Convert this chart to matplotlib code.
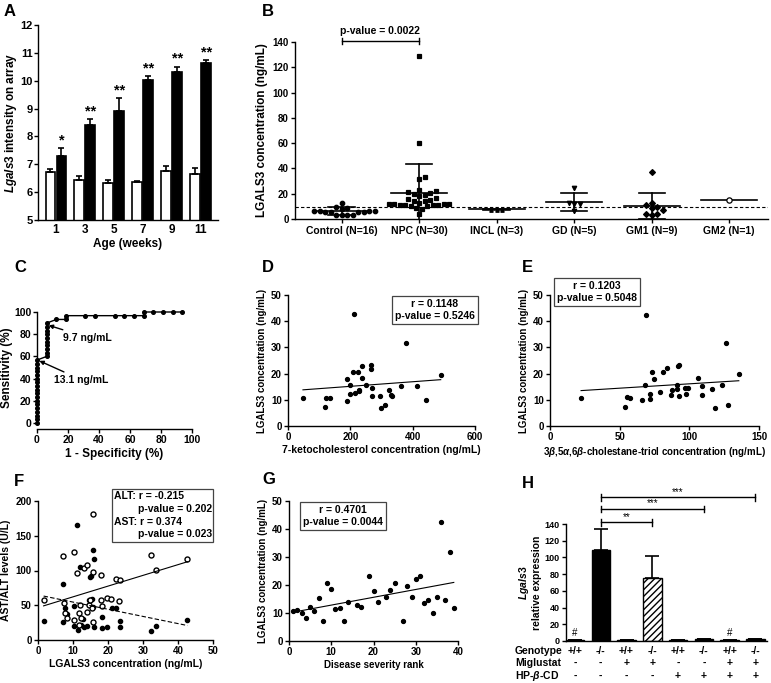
import matplotlib
matplotlib.use('Agg')
import matplotlib.pyplot as plt
import numpy as np

# ---- data -------------------------------------------------------------
# A: Lgals3 array intensity, wild type (white) vs Npc1-/- (black)
ages = ['1', '3', '5', '7', '9', '11']
wt_mean = [6.72, 6.43, 6.33, 6.35, 6.75, 6.65]
wt_err = [0.12, 0.15, 0.12, 0.04, 0.18, 0.20]
npc_mean = [7.28, 8.40, 8.92, 10.02, 10.32, 10.62]
npc_err = [0.30, 0.24, 0.47, 0.15, 0.19, 0.11]
age_stars = ['*', '**', '**', '**', '**', '**']

# B: plasma LGALS3 per group
groups = ['Control (N=16)', 'NPC (N=30)', 'INCL (N=3)', 'GD (N=5)', 'GM1 (N=9)', 'GM2 (N=1)']
ctrl_vals = [12.8, 9.4, 9.0, 8.0, 6.2, 6.1, 6.0, 6.0, 5.9, 5.9, 5.8, 5.8, 3.4, 3.2, 3.0, 2.8]
npc_vals = [129, 60, 33, 32, 23, 22, 21, 20.5, 20, 19, 18, 17, 16, 15, 14, 14, 13, 12, 12,
            12, 11.5, 11, 11, 11, 11, 10, 10, 9, 8, 4]
incl_vals = [7.5, 7.2, 7.0]
gd_vals = [24.8, 12.4, 12.2, 12.0, 6.3]
gm1_vals = [37, 12.9, 11.0, 9.2, 8.5, 7.5, 4.0, 3.8, 3.5]
gm2_vals = [15]
group_mean = [6.2, 20.5, 7.7, 13.2, 10.5, 15.0]
group_sd = [3.1, 23.2, 0.6, 7.0, 10.2, 0.0]
cutoff = 9.7

# C: ROC curve
roc_fpr = [0, 0, 0, 0, 0, 0, 0, 0, 0, 0, 0, 0, 0, 0, 0, 0, 0, 0,
           6.25, 6.25, 6.25, 6.25, 6.25, 6.25, 6.25, 6.25, 6.25, 6.25,
           12.5, 18.75, 18.75, 31.25, 37.5, 50, 56.25, 62.5, 68.75, 68.75,
           75, 81.25, 87.5, 93.75]
roc_tpr = [0, 3.3, 6.7, 10, 13.3, 16.7, 20, 23.3, 26.7, 30, 33.3, 36.7, 40, 43.3, 46.7, 50, 53.3, 56.7,
           60, 63.3, 66.7, 70, 73.3, 76.7, 80, 83.3, 86.7, 90,
           93.3, 93.3, 96.7, 96.7, 96.7, 96.7, 96.7, 96.7, 96.7, 100,
           100, 100, 100, 100]

# D: 7-ketocholesterol vs LGALS3
keto = [48, 121, 119, 134, 190, 188, 200, 207, 200, 211, 215, 224, 227, 228, 237, 238,
        249, 266, 266, 269, 271, 296, 297, 311, 323, 332, 334, 361, 378, 415, 443, 490]
keto_lg = [10.6, 10.8, 7.1, 10.7, 17.8, 9.7, 15.5, 20.5, 12.1, 42.7, 12.7, 20.5, 13.8, 13.4,
           22.9, 18.2, 15.5, 23.2, 21.9, 11.6, 14.6, 11.3, 7.0, 7.9, 13.9, 11.8, 11.5, 15.3,
           31.7, 15.3, 9.9, 19.6]

# E: cholestane-triol vs LGALS3
triol = [22.3, 53.7, 55.2, 57.3, 65.7, 68.1, 68.6, 71.5, 71.5, 73.1, 74.3, 79.1, 81.1, 83.7,
         87.1, 87.5, 90.9, 91.1, 91.6, 92.6, 92.6, 96.9, 97.8, 98.8, 106.5, 109.4, 109.4,
         116.5, 118.5, 123.3, 126.4, 127.8, 135.5]
triol_lg = [10.7, 7.2, 11.0, 10.8, 9.9, 15.6, 42.2, 10.2, 12.3, 20.6, 17.9, 12.8, 20.6, 22.0,
            11.8, 13.7, 14.0, 15.6, 23.0, 23.1, 11.3, 14.6, 12.1, 14.6, 18.3, 15.4, 11.7,
            14.0, 7.0, 15.5, 31.6, 7.9, 19.7]

# F: LGALS3 vs AST (open) and ALT (filled)
ast_lg = [1.6, 7.2, 7.3, 7.6, 8.2, 10.2, 10.3, 11.0, 11.6, 11.6, 11.9, 12.3, 13.1, 13.9, 14.1,
          14.6, 14.8, 15.4, 15.6, 15.8, 15.8, 18.1, 18.1, 18.3, 19.8, 20.8, 22.4, 23.5, 23.2,
          32.2, 33.6, 42.7]
ast = [57, 121.5, 52.6, 39, 31, 127, 28.7, 96.7, 38.3, 21.5, 50, 31, 103, 107.7, 39.7, 50,
       58, 45.5, 181, 98, 25.4, 93.8, 57.4, 48.3, 59.8, 58.9, 87.6, 86, 56.5, 123, 100.5, 116]
alt_lg = [1.6, 7.2, 7.2, 7.6, 8.2, 10.2, 10.3, 11.0, 11.3, 11.9, 12.2, 12.9, 13.1, 14.1, 14.5,
          14.9, 15.0, 15.4, 15.6, 15.8, 16.0, 16.0, 18.3, 18.3, 19.8, 21.0, 22.3, 23.5, 23.5,
          32.2, 33.6, 42.7]
alt = [27.8, 80, 25.4, 45.5, 37.3, 48.8, 20.6, 166, 14.4, 105, 21.5, 29.7, 18.2, 20.1, 57.4,
       90, 92, 58.4, 129, 47.8, 117, 19.1, 33.5, 17.7, 19.1, 46, 46, 27.8, 19.1, 13.4, 20.1, 28.7]

# G: disease severity rank vs LGALS3
rank = [1, 2, 3, 4, 5, 6, 7, 8, 9, 10, 11, 12, 13, 14, 16, 17, 19, 20, 21, 23, 24, 25, 27,
        28, 29, 30, 31, 32, 33, 34, 35, 36, 37, 38, 39]
rank_lg = [10.6, 11.0, 9.9, 8.1, 12.3, 10.6, 15.5, 7.0, 20.8, 18.4, 11.6, 11.8, 7.3, 14.0,
           12.9, 12.1, 23.3, 18.0, 14.0, 15.6, 18.1, 20.6, 7.0, 19.7, 15.6, 22.1, 23.2, 13.7,
           14.7, 10.0, 15.8, 42.5, 14.7, 31.9, 11.7]

# H: Lgals3 relative expression in treated mice
genotype = ['+/+', '-/-', '+/+', '-/-', '+/+', '-/-', '+/+', '-/-']
miglustat = ['-', '-', '+', '+', '-', '-', '+', '+']
hpbcd = ['-', '-', '-', '-', '+', '+', '+', '+']
expr_mean = [1.0, 108.5, 1.2, 75.0, 1.0, 2.3, 1.0, 2.3]
expr_err = [0.0, 25.0, 0.0, 27.0, 0.0, 0.5, 0.0, 0.5]
expr_marks = ['#', '', '', '', '', '', '#', '']
h_brackets = [(1, 3, '**', 142), (1, 5, '***', 158), (1, 7, '***', 172)]

# ---- style ------------------------------------------------------------
plt.rcParams['font.family'] = ['Liberation Sans', 'DejaVu Sans']
plt.rcParams['font.weight'] = 'bold'
plt.rcParams['axes.labelweight'] = 'bold'
plt.rcParams['font.size'] = 7.5
plt.rcParams['axes.labelsize'] = 7.5
plt.rcParams['mathtext.fontset'] = 'custom'
plt.rcParams['mathtext.it'] = 'Liberation Sans:italic:bold'
plt.rcParams['mathtext.rm'] = 'Liberation Sans:bold'
plt.rcParams['axes.linewidth'] = 1.0
for a in ('xtick', 'ytick'):
    plt.rcParams[a + '.major.size'] = 3
    plt.rcParams[a + '.major.width'] = 1.0
    plt.rcParams[a + '.major.pad'] = 1.5
    plt.rcParams[a + '.labelsize'] = 7

W, H = 771, 683
fig = plt.figure(figsize=(W / 100, H / 100), dpi=100)


def add_ax(left, top, right, bottom):
    ax = fig.add_axes([left / W, 1 - bottom / H, (right - left) / W, (bottom - top) / H])
    ax.spines['top'].set_visible(False)
    ax.spines['right'].set_visible(False)
    ax.patch.set_alpha(0)
    return ax


def letter(x, y, s):
    fig.text(x / W, 1 - y / H, s, fontsize=12, fontweight='bold', ha='left', va='center')


def fbox(cx, cy, s):
    fig.text(cx / W, 1 - cy / H, s, ha='center', va='center', fontsize=7.5, linespacing=1.2,
             bbox=dict(boxstyle='square,pad=0.3', fc='white', ec='#444444', lw=0.9))


def swarm(values, ypx, xpx, d=5.5):
    # simple beeswarm: place points one by one at the closest free x offset (pixel space)
    values = np.asarray(values, float)
    offs = np.zeros(len(values))
    placed = []
    for i in np.argsort(values):
        y = values[i] * ypx
        cands = [0.0]
        for k in range(1, 30):
            cands += [k * d / 2, -k * d / 2]
        for c in cands:
            if all((c - px) ** 2 + (y - py) ** 2 >= d * d for px, py in placed):
                break
        placed.append((c, y))
        offs[i] = c / xpx
    return offs


def fit_line(ax, x, y, **kw):
    k, b = np.polyfit(x, y, 1)
    xs = np.array([min(x), max(x)])
    ax.plot(xs, k * xs + b, color='black', lw=0.8, **kw)


# ---- A ----------------------------------------------------------------
ax = add_ax(38, 25, 218, 220)
xa = np.arange(len(ages))
ax.bar(xa - 0.19, wt_mean, 0.34, color='white', edgecolor='black', lw=1.2)
ax.bar(xa + 0.19, npc_mean, 0.34, color='black', edgecolor='black', lw=1.2)
ax.errorbar(xa - 0.19, wt_mean, yerr=[np.zeros(len(ages)), wt_err], fmt='none',
            ecolor='black', elinewidth=1.2, capsize=2.5, capthick=1.2)
ax.errorbar(xa + 0.19, npc_mean, yerr=[np.zeros(len(ages)), npc_err], fmt='none',
            ecolor='black', elinewidth=1.2, capsize=2.5, capthick=1.2)
for i, s in enumerate(age_stars):
    ax.text(xa[i] + 0.19, npc_mean[i] + npc_err[i] + 0.02, s, ha='center', va='bottom', fontsize=10.5)
ax.set_xlim(-0.62, 5.6)
ax.set_ylim(5, 12)
ax.set_xticks(xa)
ax.set_xticklabels(ages, fontsize=8.5)
ax.tick_params(axis='x', length=0, pad=3)
ax.set_yticks(range(5, 13))
ax.tick_params(axis='y', labelsize=8, pad=1)
ax.set_xlabel('Age (weeks)', labelpad=1, fontsize=8.5)
ax.set_ylabel(r'$\mathit{Lgals3}$ intensity on array', labelpad=1, fontsize=8.5)
letter(4, 11, 'A')

# ---- B ----------------------------------------------------------------
ax = add_ax(295, 42, 768, 219)
all_vals = [ctrl_vals, npc_vals, incl_vals, gd_vals, gm1_vals, gm2_vals]
markers = ['o', 's', '^', 'v', 'D', 'o']
msizes = [3.2, 3.4, 2.5, 3.2, 3.0, 3.8]
for i, vals in enumerate(all_vals):
    xs = i + swarm(vals, 177 / 140, 77.5)
    fc = 'white' if i == 5 else 'black'
    ax.plot(xs, vals, ls='none', marker=markers[i], ms=msizes[i], mfc=fc, mec='black',
            mew=0.9, clip_on=False, zorder=3)
    ax.plot([i - 0.36, i + 0.36], [group_mean[i]] * 2, color='black', lw=1.2, zorder=2)
    if group_sd[i] > 0:
        lo = max(group_mean[i] - group_sd[i], 0)
        hi = group_mean[i] + group_sd[i]
        ax.plot([i, i], [lo, hi], color='black', lw=1.2, zorder=2)
        ax.plot([i - 0.17, i + 0.17], [hi, hi], color='black', lw=1.2, zorder=2)
        if group_mean[i] - group_sd[i] > 0:
            ax.plot([i - 0.17, i + 0.17], [lo, lo], color='black', lw=1.2, zorder=2)
ax.axhline(cutoff, color='black', ls=(0, (3, 2)), lw=0.8, zorder=1)
ax.plot([0, 1], [141, 141], color='black', lw=1, clip_on=False)
for xe in (0, 1):
    ax.plot([xe, xe], [138.5, 143.5], color='black', lw=1, clip_on=False)
ax.text(0.5, 145, 'p-value = 0.0022', ha='center', va='bottom', fontsize=7.5)
ax.set_xlim(-0.6, 5.5)
ax.set_ylim(0, 140)
ax.set_yticks(range(0, 141, 20))
ax.set_xticks(range(len(groups)))
ax.set_xticklabels(groups, fontsize=7.5)
ax.tick_params(axis='x', pad=2)
ax.set_ylabel('LGALS3 concentration (ng/mL)', labelpad=3, fontsize=8.5)
letter(262, 12, 'B')

# ---- C ----------------------------------------------------------------
ax = add_ax(37, 312, 192, 423)
ax.plot(roc_fpr, roc_tpr, color='black', lw=1, marker='o', ms=2.6, clip_on=False, zorder=3)
ax.annotate('9.7 ng/mL', xy=(7.5, 88), xytext=(17, 77), fontsize=7.5, va='center',
            arrowprops=dict(arrowstyle='-|>', color='black', lw=1, shrinkA=0, shrinkB=0,
                            mutation_scale=6))
ax.annotate('13.1 ng/mL', xy=(1.5, 56), xytext=(11, 39), fontsize=7.5, va='center',
            arrowprops=dict(arrowstyle='-|>', color='black', lw=1, shrinkA=0, shrinkB=0,
                            mutation_scale=6))
ax.set_xlim(0, 100)
ax.set_ylim(0, 100)
ax.spines['bottom'].set_position(('outward', 4))
ax.set_xticks(range(0, 101, 20))
ax.set_yticks(range(0, 101, 20))
ax.tick_params(labelsize=7.5)
ax.tick_params(axis='y', pad=1)
ax.set_xlabel('1 - Specificity (%)', labelpad=2, fontsize=8.5)
ax.set_ylabel('Sensitivity (%)', labelpad=1, fontsize=8.5)
letter(14, 268, 'C')

# ---- D ----------------------------------------------------------------
ax = add_ax(288, 295, 475, 426)
ax.plot(keto, keto_lg, ls='none', marker='o', ms=2.8, color='black')
fit_line(ax, keto, keto_lg)
ax.set_xlim(0, 600)
ax.set_ylim(0, 50)
ax.set_xticks([0, 200, 400, 600])
ax.set_yticks(range(0, 51, 10))
ax.set_xlabel('7-ketocholesterol concentration (ng/mL)', labelpad=2)
ax.set_ylabel('LGALS3 concentration (ng/mL)', labelpad=3, fontsize=7)
fbox(435, 310, 'r = 0.1148\np-value = 0.5246')
letter(262, 268, 'D')

# ---- E ----------------------------------------------------------------
ax = add_ax(550, 295, 759, 426)
ax.plot(triol, triol_lg, ls='none', marker='o', ms=2.8, color='black')
fit_line(ax, triol, triol_lg)
ax.set_xlim(0, 150)
ax.set_ylim(0, 50)
ax.set_xticks([0, 50, 100, 150])
ax.set_yticks(range(0, 51, 10))
ax.set_xlabel(r'3$\beta$,5$\alpha$,6$\beta$-cholestane-triol concentration (ng/mL)',
              labelpad=2, fontsize=7)
ax.set_ylabel('LGALS3 concentration (ng/mL)', labelpad=3, fontsize=7)
fbox(597, 292, 'r = 0.1203\np-value = 0.5048')
letter(522, 268, 'E')

# ---- F ----------------------------------------------------------------
ax = add_ax(38, 501, 213, 640)
ax.plot(alt_lg, alt, ls='none', marker='o', ms=3, color='black')
ax.plot(ast_lg, ast, ls='none', marker='o', ms=3.6, mfc='white', mec='black', mew=1)
fit_line(ax, ast_lg, ast)
fit_line(ax, alt_lg, alt, ls=(0, (4, 2)))
ax.set_xlim(0, 50)
ax.set_ylim(0, 200)
ax.set_xticks(range(0, 51, 10))
ax.set_yticks(range(0, 201, 50))
ax.tick_params(labelsize=7)
ax.set_xlabel('LGALS3 concentration (ng/mL)', labelpad=2)
ax.set_ylabel('AST/ALT levels (U/L)', labelpad=3)
fig.patches.append(plt.Rectangle((112 / W, 1 - 542 / H), 101 / W, 53 / H, transform=fig.transFigure,
                                 fc='white', ec='#444444', lw=0.9))
for y, x, s in [(496, 114, 'ALT: r = -0.215'), (509, 138, 'p-value = 0.202'),
                (522, 114, 'AST: r = 0.374'), (534, 138, 'p-value = 0.023')]:
    fig.text(x / W, 1 - y / H, s, ha='left', va='center', fontsize=7.5)
letter(14, 482, 'F')

# ---- G ----------------------------------------------------------------
ax = add_ax(289, 501, 458, 641)
ax.plot(rank, rank_lg, ls='none', marker='o', ms=2.8, color='black')
fit_line(ax, rank, rank_lg)
ax.set_xlim(0, 40)
ax.set_ylim(0, 50)
ax.set_xticks(range(0, 41, 10))
ax.set_yticks(range(0, 51, 10))
ax.set_xlabel('Disease severity rank', labelpad=2, fontsize=7)
ax.set_ylabel('LGALS3 concentration (ng/mL)', labelpad=3, fontsize=7)
fbox(343, 516, 'r = 0.4701\np-value = 0.0044')
letter(262, 480, 'G')

# ---- H ----------------------------------------------------------------
ax = add_ax(566, 524, 767, 641)
xh = np.arange(len(genotype))
bars = ax.bar(xh, expr_mean, 0.72, color='black', edgecolor='black', lw=1)
bars[3].set_facecolor('white')
bars[3].set_hatch('/////')
ax.errorbar(xh, expr_mean, yerr=[np.zeros(len(xh)), expr_err], fmt='none', ecolor='black',
            elinewidth=1.2, capsize=5, capthick=1.2)
for i, m in enumerate(expr_marks):
    if m:
        ax.text(xh[i], expr_mean[i] + 3, m, ha='center', va='bottom', fontsize=7, fontweight='normal')
for a, b, s, y in h_brackets:
    ax.plot([a, b], [y, y], color='black', lw=1, clip_on=False)
    for xe in (a, b):
        ax.plot([xe, xe], [y - 4, y + 4], color='black', lw=1, clip_on=False)
    ax.text((a + b) / 2, y + 0.5, s, ha='center', va='bottom', fontsize=7, fontweight='normal')
ax.set_xlim(-0.35, 7.45)
ax.set_ylim(0, 140)
ax.set_yticks(range(0, 141, 20))
ax.set_xticks([])
ax.tick_params(labelsize=6.5)
ax.set_ylabel(r'$\mathit{Lgals3}$' + '\nrelative expression', labelpad=2, linespacing=1.1)
xt = ax.get_xaxis_transform()
rows = [('Genotype', genotype, 651), ('Miglustat', miglustat, 663), (r'HP-$\beta$-CD', hpbcd, 676)]
for name, vals, ypx in rows:
    yax = (641 - ypx) / 117
    fig.text(515 / W, 1 - ypx / H, name, ha='left', va='center', fontsize=7.5)
    for i, v in enumerate(vals):
        ax.text(xh[i], yax, v, transform=xt, ha='center', va='center', fontsize=7.5)
letter(522, 483, 'H')

fig.savefig('out.png', dpi=100)
